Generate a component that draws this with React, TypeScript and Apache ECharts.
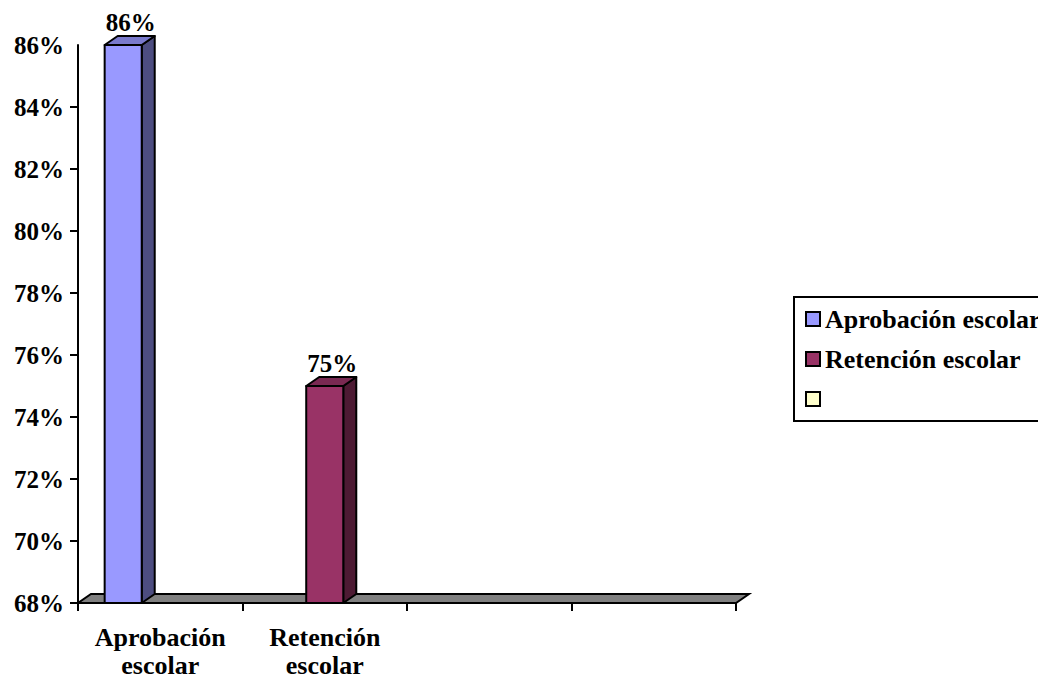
import React, { useEffect, useRef } from "react";
import * as echarts from "echarts";

const categories = ["Aprobación escolar", "Retención escolar", "", ""];
const seriesNames = ["Aprobación escolar", "Retención escolar", " "];
const aprobacion: (number | null)[] = [86, null, null, null];
const retencion: (number | null)[] = [null, 75, null, null];
const tercera: (number | null)[] = [null, null, null, null];
const yTicks = { min: 68, max: 86, interval: 2 };
const yTickMarks = [68, 70, 72, 74, 76, 78, 80, 82, 84];

const frontColors = ["#9999FF", "#993366", "#FFFFCC"];
const topColors = ["#7A7ACC", "#7A2952", "#CCCCA3"];
const sideColors = ["#4D4D80", "#4D1A33", "#808066"];

const DX = 13;
const DY = 9;
const FONT = "Liberation Serif";
const FS = 25;
const FS_BIG = 26;

function toData(arr: (number | null)[]) {
  return arr
    .map((v, i) => (v == null ? null : [i, v]))
    .filter((d) => d !== null) as number[][];
}

function makeBarSeries(idx: number, values: (number | null)[]) {
  return {
    type: "custom",
    name: seriesNames[idx],
    z: 3,
    itemStyle: { color: frontColors[idx], borderColor: "#000", borderWidth: 2 },
    data: toData(values),
    encode: { x: 0, y: 1 },
    renderItem: (params: any, api: any) => {
      const cat = api.value(0);
      const val = api.value(1);
      const band = api.size([1, 0])[0];
      const barW = band * 0.2253;
      const center = api.coord([cat, val]);
      const base = api.coord([cat, yTicks.min]);
      const x0 = center[0] - 1.5 * barW + idx * barW;
      const x1 = x0 + barW;
      const yt = center[1];
      const yb = base[1];
      const stroke = { stroke: "#000", lineWidth: 2, lineJoin: "round" };
      return {
        type: "group",
        children: [
          {
            type: "polygon",
            shape: { points: [[x1, yb], [x1 + DX, yb - DY], [x1 + DX, yt - DY], [x1, yt]] },
            style: { fill: sideColors[idx], ...stroke },
          },
          {
            type: "polygon",
            shape: { points: [[x0, yt], [x0 + DX, yt - DY], [x1 + DX, yt - DY], [x1, yt]] },
            style: { fill: topColors[idx], ...stroke },
          },
          {
            type: "rect",
            shape: { x: x0, y: yt, width: barW, height: yb - yt },
            style: { fill: frontColors[idx], ...stroke },
          },
          {
            type: "text",
            x: (x0 + x1) / 2 + DX / 2 + 1,
            y: yt - DY - 1,
            style: {
              text: val + "%",
              fill: "#000",
              fontFamily: FONT,
              fontWeight: "bold",
              fontSize: FS,
              align: "center",
              verticalAlign: "bottom",
            },
          },
        ],
      };
    },
  };
}

export default function App() {
  const ref = useRef<HTMLDivElement>(null);
  useEffect(() => {
    if (!ref.current) return;
    const chart = echarts.init(ref.current, null, { renderer: "svg" });
    const textStyle = { fontFamily: FONT, fontWeight: "bold" as const, fontSize: FS, color: "#000" };
    chart.setOption({
      animation: false,
      backgroundColor: "#fff",
      textStyle: { fontFamily: FONT },
      grid: { left: 78, right: 302, top: 45, bottom: 75, containLabel: false },
      legend: {
        data: seriesNames,
        orient: "vertical",
        left: 794,
        top: 297,
        icon: "rect",
        itemWidth: 14,
        itemHeight: 14,
        itemGap: 14,
        itemTextGap: 12,
        padding: [9, 30, 9, 11],
        borderColor: "#000",
        borderWidth: 2,
        textStyle: { ...textStyle, fontSize: FS_BIG, lineHeight: 26 },
        selectedMode: false,
      },
      xAxis: {
        type: "category",
        data: categories,
        boundaryGap: true,
        axisLine: { show: true, lineStyle: { color: "#000", width: 2 } },
        axisTick: { show: true, length: 8, lineStyle: { color: "#000", width: 2 } },
        axisLabel: {
          ...textStyle,
          fontSize: FS_BIG,
          lineHeight: 28,
          margin: 20,
          interval: 0,
          formatter: (v: string) => v.replace(" ", "\n"),
        },
        splitLine: { show: false },
      },
      yAxis: {
        type: "value",
        min: yTicks.min,
        max: yTicks.max,
        interval: yTicks.interval,
        axisLine: { show: true, lineStyle: { color: "#000", width: 2 } },
        axisTick: {
          show: true,
          length: 8,
          customValues: yTickMarks,
          lineStyle: { color: "#000", width: 2 },
        },
        axisLabel: { ...textStyle, margin: 14, formatter: "{value}%" },
        splitLine: { show: false },
      },
      series: [
        {
          type: "custom",
          name: "floor",
          z: 1,
          data: [[0, yTicks.min]],
          encode: { x: 0, y: 1 },
          renderItem: (params: any, api: any) => {
            const cs = params.coordSys;
            const x0 = cs.x;
            const x1 = cs.x + cs.width;
            const yb = cs.y + cs.height;
            return {
              type: "polygon",
              shape: { points: [[x0, yb], [x1, yb], [x1 + DX, yb - DY], [x0 + DX, yb - DY]] },
              style: { fill: "#808080", stroke: "#000", lineWidth: 2 },
            };
          },
        },
        makeBarSeries(0, aprobacion),
        makeBarSeries(1, retencion),
        makeBarSeries(2, tercera),
      ],
    });
    return () => chart.dispose();
  }, []);
  return (
    <div
      ref={ref}
      style={{ position: "absolute", left: 0, top: 0, width: 1038, height: 679 }}
    />
  );
}
